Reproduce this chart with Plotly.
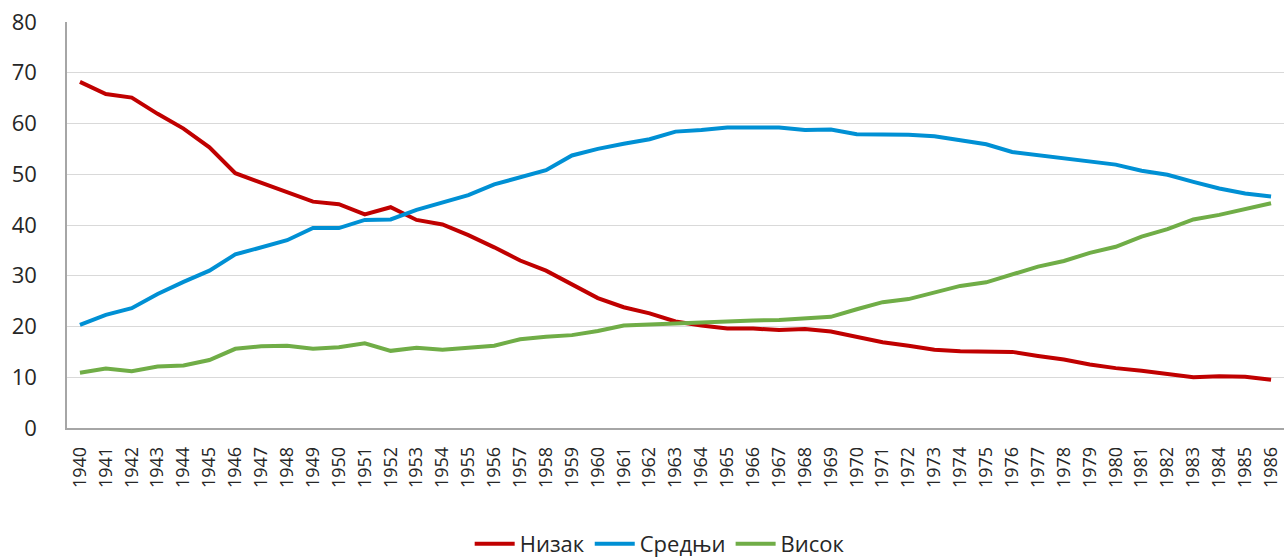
import plotly.graph_objects as go

years = [str(y) for y in range(1940, 1987)]

nizak = [68.2, 65.8, 65.1, 61.9, 59.0, 55.3, 50.2, 48.3, 46.6, 44.6,
         44.1, 42.1, 43.5, 41.0, 40.1, 38.0, 35.6, 33.0, 31.0, 28.2,
         25.6, 23.8, 22.6, 21.0, 20.2, 19.6, 19.6, 19.3, 19.5, 19.0,
         17.9, 16.9, 16.2, 15.4, 15.1, 15.0, 15.0, 14.2, 13.5, 12.5,
         11.8, 11.3, 10.6, 10.0, 10.2, 10.1, 9.5]

srednji = [20.3, 22.3, 23.6, 26.4, 28.8, 31.0, 34.2, 35.6, 37.0, 39.4,
           39.4, 41.0, 41.1, 43.0, 44.5, 45.9, 48.0, 49.5, 50.8, 53.7,
           55.0, 56.0, 56.9, 58.4, 58.7, 59.2, 59.2, 59.2, 58.7, 58.8,
           57.9, 57.9, 57.8, 57.5, 56.7, 55.9, 54.4, 53.8, 53.2, 52.5,
           51.9, 50.7, 49.9, 48.5, 47.2, 46.2, 45.6]

visok = [10.9, 11.7, 11.2, 12.1, 12.3, 13.4, 15.6, 16.1, 16.2, 15.6,
         15.9, 16.7, 15.2, 15.8, 15.4, 15.8, 16.2, 17.5, 18.0, 18.3,
         19.1, 20.2, 20.4, 20.6, 20.9, 21.0, 21.2, 21.3, 21.6, 21.9,
         23.4, 24.8, 25.4, 26.7, 28.0, 28.7, 30.3, 31.8, 32.9, 34.5,
         35.7, 37.7, 39.2, 41.1, 42.0, 43.2, 44.3]

series_names = ["Низак", "Средњи", "Висок"]
colors = ["#c00000", "#0090d4", "#70ad47"]

fig = go.Figure()
for name, vals, col in zip(series_names, [nizak, srednji, visok], colors):
    fig.add_trace(go.Scatter(x=years, y=vals, name=name, mode="lines",
                             line=dict(color=col, width=4)))

font_family = "Open Sans, Noto Sans, sans-serif"

fig.update_layout(
    width=1284, height=558,
    margin=dict(l=67, r=0, t=22, b=130, autoexpand=False),
    plot_bgcolor="white", paper_bgcolor="white",
    font=dict(family=font_family, color="#262626"),
    showlegend=True,
    legend=dict(orientation="h", x=0.487, xanchor="center",
                yref="container", y=0.025, yanchor="middle",
                font=dict(size=22, color="#262626"), itemwidth=40,
                tracegroupgap=0),
    xaxis=dict(type="category", range=[-0.5, 46.5], tickangle=-90, tickfont=dict(size=18),
               showgrid=False, showline=True, linecolor="#a6a6a6", linewidth=1.5,
               ticks="", ticklabelstandoff=10, automargin=False),
    yaxis=dict(range=[0, 80], dtick=10, tickfont=dict(size=22),
               showgrid=True, gridcolor="#d9d9d9", gridwidth=1.2,
               showline=True, linecolor="#a6a6a6", linewidth=1.5,
               zeroline=False, ticks="", ticklabelstandoff=24, automargin=False),
)

fig.write_html("out.html", config={"displayModeBar": False},
               post_script="document.body.style.margin='0';document.body.style.overflow='hidden';")
